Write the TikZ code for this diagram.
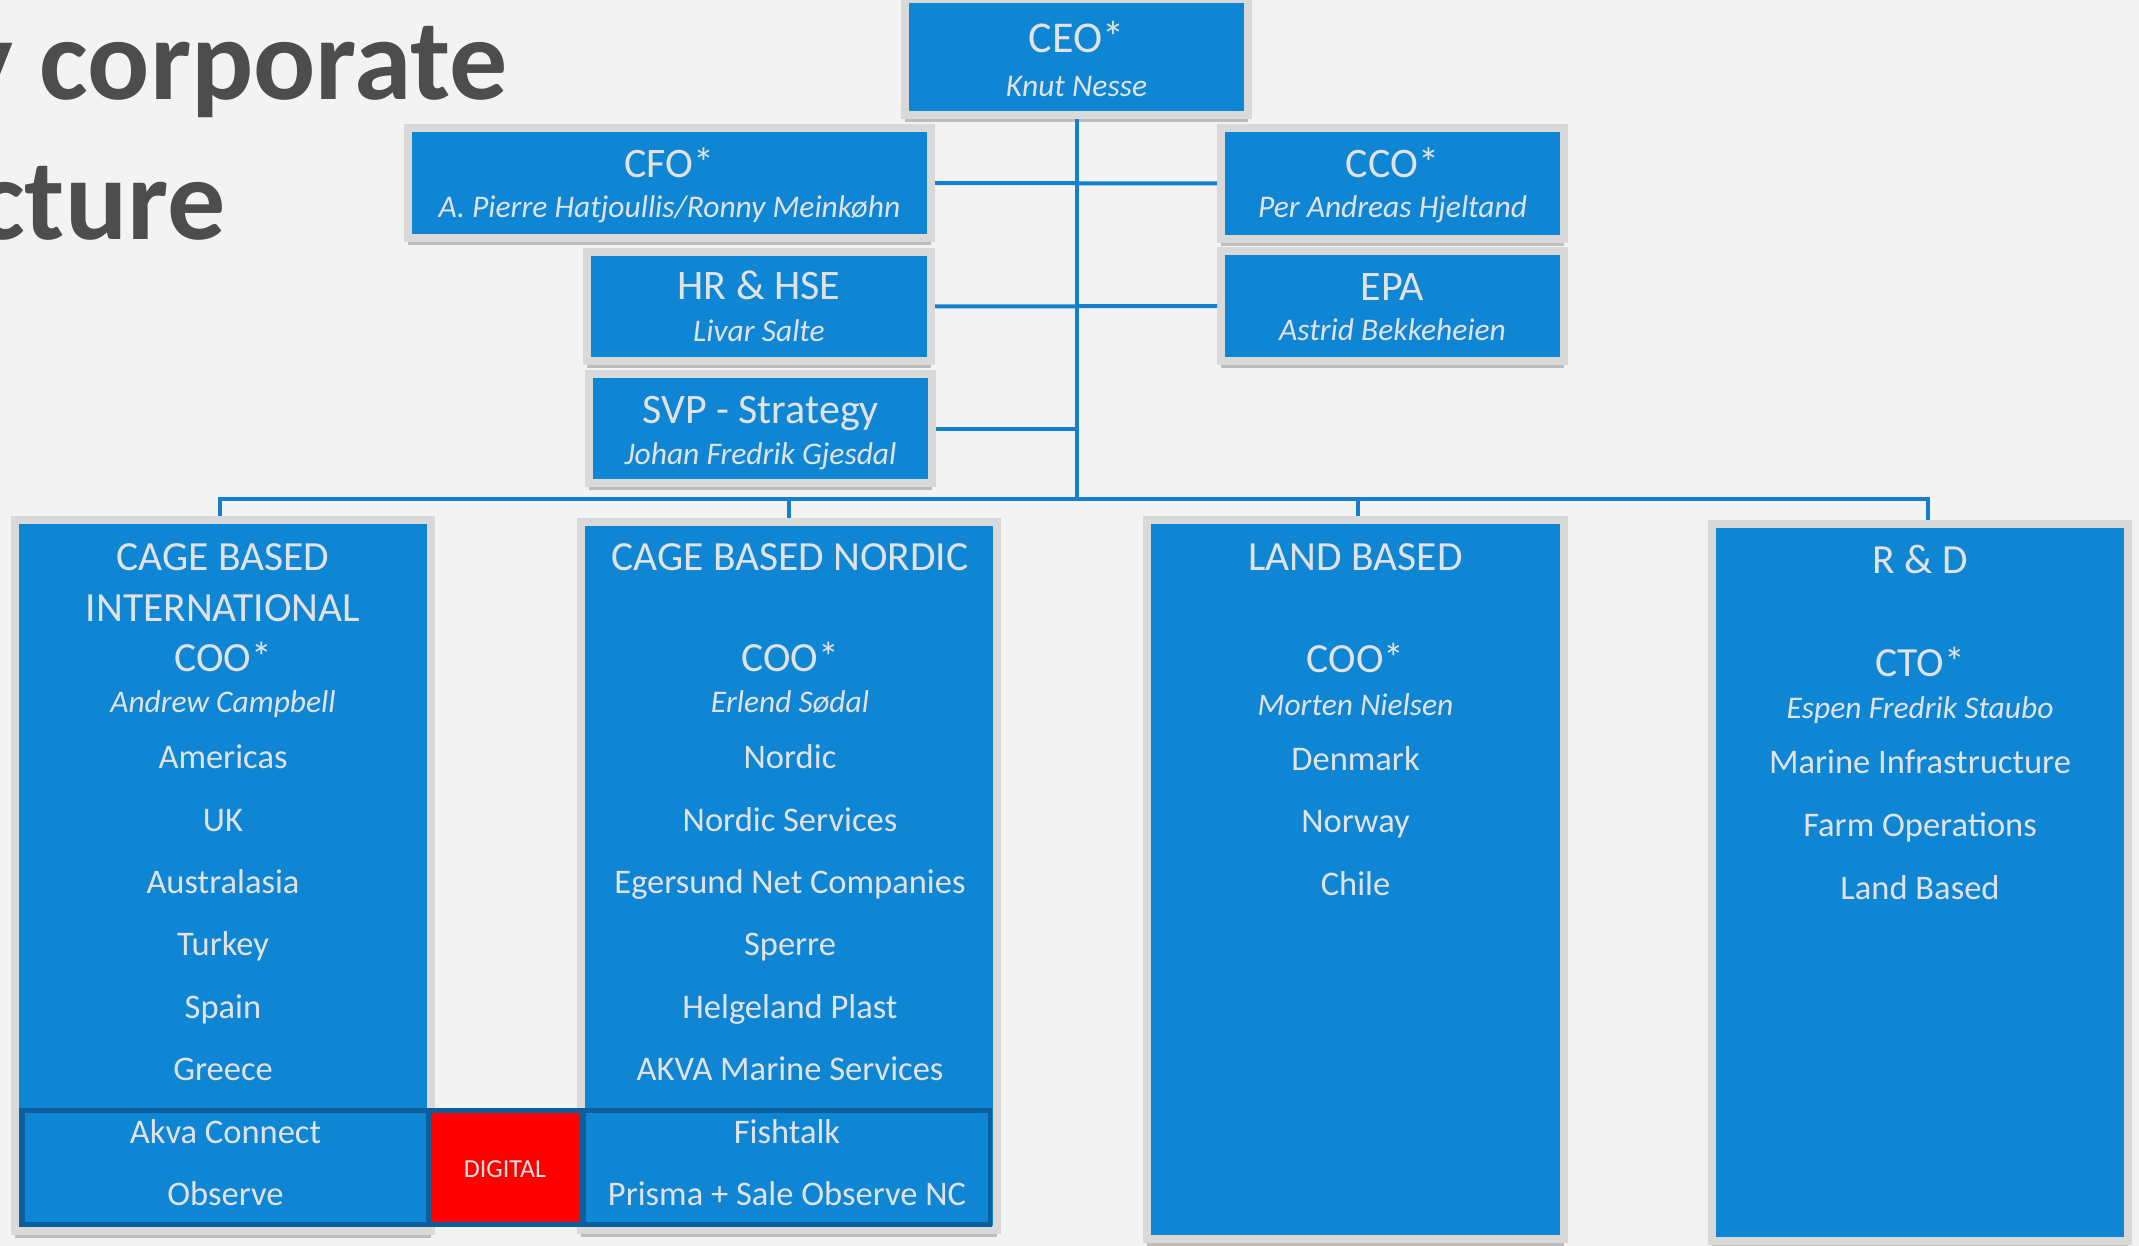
\documentclass[tikz,border=0pt]{standalone}
\usepackage{fontspec}
\setmainfont{Carlito}
\usetikzlibrary{shadows,calc}

\definecolor{pagebg}{HTML}{F3F3F3}
\definecolor{boxblue}{HTML}{0E86D4}
\definecolor{framegray}{HTML}{D9D9D9}
\definecolor{linkblue}{HTML}{1380CF}
\definecolor{lighttext}{HTML}{E2E2E2}
\definecolor{rowdark}{HTML}{0B5F9C}
\definecolor{digred}{HTML}{FF0000}
\definecolor{titlegray}{HTML}{4D4D4D}

\tikzset{
  orgbox/.style={rectangle, fill=boxblue, draw=framegray, line width=8pt, inner sep=0pt,
    drop shadow={shadow xshift=0pt, shadow yshift=-7pt, fill=black, opacity=0.22}},
  cell/.style={rectangle, inner sep=0pt, draw=none},
  head/.style={text=lighttext, font=\fontsize{42}{50}\selectfont, anchor=base, inner sep=0pt},
  subhead/.style={text=lighttext, font=\fontsize{41.5}{50}\selectfont, anchor=base, inner sep=0pt},
  person/.style={text=lighttext, font=\fontsize{31.5}{38}\selectfont\itshape, anchor=base, inner sep=0pt},
  item/.style={text=lighttext, font=\fontsize{34.5}{40}\selectfont, anchor=base, inner sep=0pt},
  link/.style={draw=linkblue, line width=4pt},
  titletext/.style={text=titlegray, font=\fontsize{116}{130}\selectfont\bfseries, anchor=base east, inner sep=0pt},
}

\begin{document}
\begin{tikzpicture}[x=1pt, y=-1pt]
  % page
  \useasboundingbox (0,0) rectangle (2139,1246);
  \fill[pagebg] (0,0) rectangle (2139,1246);
  \clip (0,0) rectangle (2139,1246);

  % heading, running off the left edge
  \node[titletext] (title1) at (508,100) {y corporate};
  \node[titletext] (title2) at (226,240) {cture};

  % management boxes
  \node[orgbox, minimum width=343pt, minimum height=116pt] (ceo) at (1076.5,57) {};
  \node[orgbox, minimum width=523pt, minimum height=110pt] (cfo) at (669.5,183) {};
  \node[orgbox, minimum width=344pt, minimum height=109pt] (hr)  at (759,306.5) {};
  \node[orgbox, minimum width=343pt, minimum height=109pt] (svp) at (760.5,428.5) {};
  \node[orgbox, minimum width=343pt, minimum height=111pt] (cco) at (1392.5,183.5) {};
  \node[orgbox, minimum width=343pt, minimum height=110pt] (epa) at (1392.5,306) {};

  % business area boxes
  \node[orgbox, minimum width=416pt, minimum height=711pt] (b1) at (223,875.5) {};
  \node[orgbox, minimum width=416pt, minimum height=708pt] (b2) at (789,876) {};
  \node[orgbox, minimum width=417pt, minimum height=719pt] (b3) at (1355.5,879.5) {};
  \node[orgbox, minimum width=416pt, minimum height=717pt] (b4) at (1920,882.5) {};

  % digital row spanning the two cage based boxes
  \node[cell, fill=rowdark, minimum width=973pt, minimum height=119pt] (digrow) at (505.5,1167.5) {};
  \node[cell, fill=boxblue, minimum width=401pt, minimum height=109pt] (digleft) at (225.5,1167.5) {};
  \node[cell, fill=digred, minimum width=148pt, minimum height=109pt] (digital) at (505,1167.5) {};
  \node[cell, fill=boxblue, minimum width=402pt, minimum height=109pt] (digright) at (787,1167.5) {};

  % connectors
  \coordinate (busmid) at (1076.5,499);
  \coordinate (drop1) at (220,499);
  \coordinate (drop2) at (789,499);
  \coordinate (drop3) at (1358,499);
  \coordinate (drop4) at (1928,499);
  \draw[link] (ceo.south) -- (busmid);
  \draw[link] (cfo.east) -- (cco.west);
  \draw[link] (hr.east) -- (epa.west);
  \draw[link] (svp.east) -- (svp.east -| busmid);
  \draw[link] (drop1 |- b1.north) -- (drop1) -- (drop4) -- (drop4 |- b4.north);
  \draw[link] (drop2) -- (drop2 |- b2.north);
  \draw[link] (drop3) -- (drop3 |- b3.north);

  % management texts
  \node[head, font=\fontsize{44}{50}\selectfont] (ceoT) at (1076.5,53) {CEO*};
  \node[person] (ceoN) at (1076.5,97) {Knut Nesse};
  \node[head] (cfoT) at (669.5,178) {CFO*};
  \node[person] (cfoN) at (669.5,218) {A. Pierre Hatjoullis/Ronny Meinkøhn};
  \node[head] (hrT) at (759,300) {HR \& HSE};
  \node[person] (hrN) at (759,342) {Livar Salte};
  \node[head] (svpT) at (760.5,423) {SVP - Strategy};
  \node[person] (svpN) at (760.5,464) {Johan Fredrik Gjesdal};
  \node[head] (ccoT) at (1392.5,177.5) {CCO*};
  \node[person] (ccoN) at (1392.5,218) {Per Andreas Hjeltand};
  \node[head] (epaT) at (1392.5,300.5) {EPA};
  \node[person] (epaN) at (1392.5,341) {Astrid Bekkeheien};

  % cage based international
  \node[subhead] (b1h1) at (223,570) {CAGE BASED};
  \node[subhead] (b1h2) at (223,621.5) {INTERNATIONAL};
  \node[subhead] (b1h3) at (223,671) {COO*};
  \node[person] (b1n) at (223,712) {Andrew Campbell};
  \foreach \t/\y [count=\i] in {Americas/768, UK/831, Australasia/893, Turkey/955.5, Spain/1018, Greece/1080}
    \node[item, name=b1i\i] at (223,\y) {\t};
  \node[item] (akva) at (225.5,1143) {Akva Connect};
  \node[item] (observe) at (225.5,1205) {Observe};

  % cage based nordic
  \node[subhead] (b2h1) at (790,570) {CAGE BASED NORDIC};
  \node[subhead] (b2h2) at (790,671) {COO*};
  \node[person] (b2n) at (790,712) {Erlend Sødal};
  \foreach \t/\y [count=\i] in {Nordic/768, Nordic Services/831, Egersund Net Companies/893, Sperre/955.5, Helgeland Plast/1018, AKVA Marine Services/1080}
    \node[item, name=b2i\i] at (790,\y) {\t};
  \node[item] (fishtalk) at (787,1143) {Fishtalk};
  \node[item] (prisma) at (787,1205) {Prisma + Sale Observe NC};

  % digital label
  \node[text=lighttext, font=\fontsize{26}{30}\selectfont, anchor=base, inner sep=0pt] (digT) at (505,1177) {DIGITAL};

  % land based
  \node[subhead] (b3h1) at (1355.5,570) {LAND BASED};
  \node[subhead] (b3h2) at (1355.5,672) {COO*};
  \node[person] (b3n) at (1355.5,715) {Morten Nielsen};
  \foreach \t/\y [count=\i] in {Denmark/770, Norway/832, Chile/895}
    \node[item, name=b3i\i] at (1355.5,\y) {\t};

  % research and development
  \node[subhead] (b4h1) at (1920,573) {R \& D};
  \node[subhead] (b4h2) at (1920,676) {CTO*};
  \node[person] (b4n) at (1920,718) {Espen Fredrik Staubo};
  \foreach \t/\y [count=\i] in {Marine Infrastructure/773, Farm Operations/836, Land Based/899}
    \node[item, name=b4i\i] at (1920,\y) {\t};
\end{tikzpicture}
\end{document}
